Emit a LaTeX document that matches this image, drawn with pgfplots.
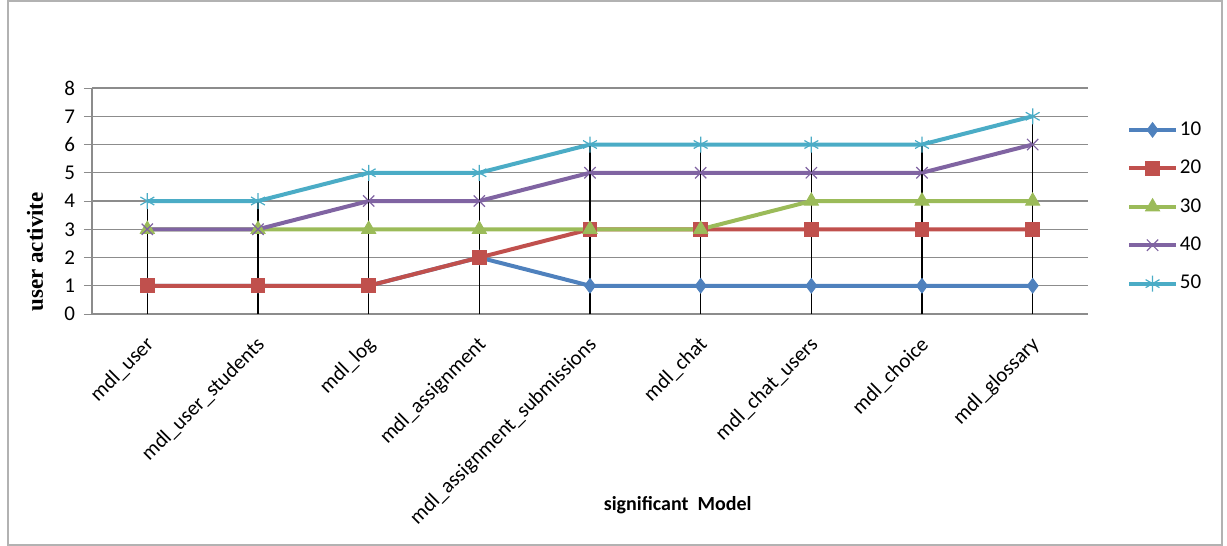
\documentclass[border=0pt]{standalone}
\usepackage{pgfplots}
\pgfplotsset{compat=1.18}
\usepackage{fontspec}
\setmainfont{Carlito}
\newfontfamily\timesfont{Liberation Serif}
\definecolor{c10}{HTML}{4F81BD}
\definecolor{c20}{HTML}{C0504D}
\definecolor{c30}{HTML}{9BBB59}
\definecolor{c40}{HTML}{8064A2}
\definecolor{c50}{HTML}{4BACC6}
\definecolor{gridc}{HTML}{8C8C8C}
\begin{document}
\begin{tikzpicture}
\useasboundingbox (-46pt,-116pt) rectangle (567.5pt,157pt);
\draw[gray!60, line width=0.6pt] (-42pt,-115.5pt) rectangle (565pt,156.5pt);
\begin{axis}[
  at={(0,0)}, anchor=south west,
  scale only axis, width=498pt, height=113pt,
  xmin=-0.5, xmax=8.5, ymin=0, ymax=8,
  xtick={0,...,8},
  xticklabels={mdl\_user,mdl\_user\_students,mdl\_log,mdl\_assignment,mdl\_assignment\_submissions,mdl\_chat,mdl\_chat\_users,mdl\_choice,mdl\_glossary},
  xticklabel style={rotate=45, anchor=north east, font=\fontsize{10.5}{11}\selectfont, inner sep=1pt, xshift=-4.5pt, yshift=-2.5pt},
  major x tick style={draw=none},
  ytick={0,...,8},
  yticklabel style={font=\fontsize{10.5}{11}\selectfont, xshift=-1pt},
  /pgf/number format/assume math mode=true,
  tick align=outside, major tick length=4pt,
  ytick style={gridc, line width=0.5pt},
  ymajorgrids, grid style={gridc, line width=0.6pt},
  axis x line*=bottom, axis y line*=left,
  x axis line style={gridc, line width=0.6pt, -},
  y axis line style={gridc, line width=0.6pt, -},
  every axis plot/.append style={line width=2pt},
  legend style={at={(1.039,0.862)}, anchor=north west, draw=none, fill=none,
    font=\fontsize{10.5}{11}\selectfont, row sep=8.9pt, inner sep=0pt,
    nodes={inner sep=1pt}},
  legend cell align=left,
  legend image code/.code={\draw[mark repeat=2,mark phase=2,#1] plot coordinates {(0cm,0cm) (0.41cm,0cm) (0.82cm,0cm)};},
  clip=false,
]
\addplot[c10, mark=diamond*, mark size=3.6pt, mark options={solid, line width=0.5pt}] coordinates {(0,1)(1,1)(2,1)(3,2)(4,1)(5,1)(6,1)(7,1)(8,1)};
\addlegendentry{10}
\addplot[c20, mark=square*, mark size=3.4pt, mark options={solid, line width=0.5pt}] coordinates {(0,1)(1,1)(2,1)(3,2)(4,3)(5,3)(6,3)(7,3)(8,3)};
\addlegendentry{20}
\addplot[c30, mark=triangle*, mark size=4pt, mark options={solid, line width=0.5pt}] coordinates {(0,3)(1,3)(2,3)(3,3)(4,3)(5,3)(6,4)(7,4)(8,4)};
\addlegendentry{30}
\addplot[c40, mark=x, mark size=4pt, mark options={solid, line width=0.6pt}] coordinates {(0,3)(1,3)(2,4)(3,4)(4,5)(5,5)(6,5)(7,5)(8,6)};
\addlegendentry{40}
\addplot[c50, mark=asterisk, mark size=4pt, mark options={solid, line width=0.6pt}] coordinates {(0,4)(1,4)(2,5)(3,5)(4,6)(5,6)(6,6)(7,6)(8,7)};
\addlegendentry{50}
\addplot[black, ycomb, line width=0.8pt, no marks, forget plot] coordinates {(0,4)(1,4)(2,5)(3,5)(4,6)(5,6)(6,6)(7,6)(8,7)};
\node[rotate=90, font=\timesfont\bfseries\fontsize{11.5}{12}\selectfont] at ([xshift=-28.5pt]axis cs:-0.5,2.2) {user activite};
\node[font=\bfseries\fontsize{10}{11}\selectfont] at ([yshift=-95.5pt]rel axis cs:0.588,0) {significant\ \ Model};
\end{axis}
\end{tikzpicture}
\end{document}
